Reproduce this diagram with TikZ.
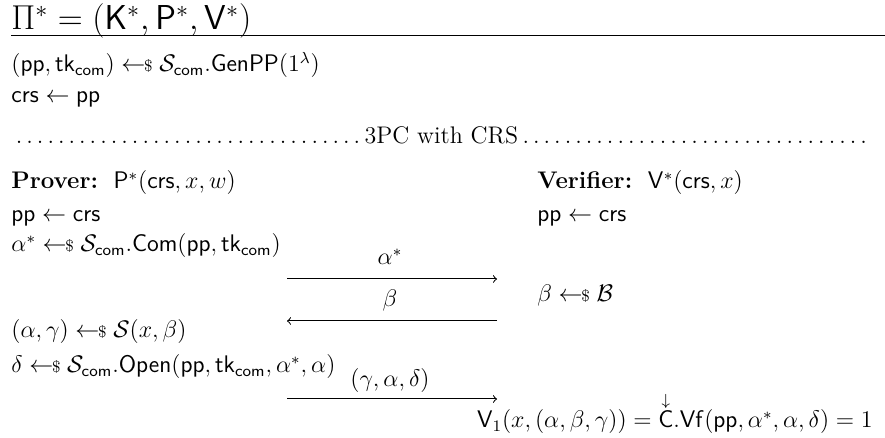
\documentclass[tikz,border=0pt]{standalone}
\usepackage{amsmath,amssymb}
\newcommand{\smp}{\mathrel{\leftarrow\!\!{\scriptstyle\$}}}
\newcommand{\Scom}{\mathcal{S}_{\mathsf{com}}}
\newcommand{\tkc}{\mathsf{tk}_{\mathsf{com}}}
\begin{document}
\begin{tikzpicture}[x=0.5pt,y=-0.5pt,
  txt/.style={anchor=base west,inner sep=0pt,font=\fontsize{12}{14}\selectfont},
  lbl/.style={anchor=base,inner sep=0pt,font=\fontsize{12}{14}\selectfont},
  msg/.style={line width=0.5pt,-to}]
\useasboundingbox (0,0) rectangle (885,438);
\node[anchor=base west,inner sep=0pt,font=\fontsize{17.28}{20}\selectfont] (title) at (11,30) {$\Pi^* = (\mathsf{K}^*,\mathsf{P}^*,\mathsf{V}^*)$};
\coordinate (rl) at (11,36);
\coordinate (rr) at (885,36);
\draw[line width=0.5pt] (rl) -- (rr);
\node[txt] (l1) at (11,72) {$(\mathsf{pp},\tkc) \smp \Scom.\mathsf{GenPP}(1^\lambda)$};
\node[txt] (l2) at (11,103) {$\mathsf{crs} \leftarrow \mathsf{pp}$};
\node[txt] (sep) at (11,144) {\makebox[430pt]{\dotfill 3PC with CRS\dotfill}};
\node[txt] (prv) at (11,189) {\textbf{Prover:}\ \ $\mathsf{P}^*(\mathsf{crs},x,w)$};
\node[txt] (vrf) at (537,189) {\textbf{Verifier:}\ \ $\mathsf{V}^*(\mathsf{crs},x)$};
\node[txt] (p1) at (11,222) {$\mathsf{pp} \leftarrow \mathsf{crs}$};
\node[txt] (v1) at (537,222) {$\mathsf{pp} \leftarrow \mathsf{crs}$};
\node[txt] (p2) at (11,252) {$\alpha^* \smp \Scom.\mathsf{Com}(\mathsf{pp},\tkc)$};
\coordinate (m1s) at (287,279);
\coordinate (m1e) at (497,279);
\draw[msg] (m1s) -- (m1e);
\node[lbl] (m1l) at (390,265) {$\alpha^*$};
\node[txt] (v2) at (537,302) {$\beta \smp \mathcal{B}$};
\coordinate (m2s) at (497,321);
\coordinate (m2e) at (287,321);
\draw[msg] (m2s) -- (m2e);
\node[lbl] (m2l) at (390,307) {$\beta$};
\node[txt] (p3) at (11,338) {$(\alpha,\gamma) \smp \mathcal{S}(x,\beta)$};
\node[txt] (p4) at (11,373) {$\delta \smp \Scom.\mathsf{Open}(\mathsf{pp},\tkc,\alpha^*,\alpha)$};
\coordinate (m3s) at (287,399);
\coordinate (m3e) at (497,399);
\draw[msg] (m3s) -- (m3e);
\node[lbl] (m3l) at (390,387) {$(\gamma,\alpha,\delta)$};
\node[anchor=base east,inner sep=0pt,font=\fontsize{12}{14}\selectfont] (v3) at (873,428) {$\mathsf{V}_1(x,(\alpha,\beta,\gamma)) = \overset{\downarrow}{\mathsf{C}}.\mathsf{Vf}(\mathsf{pp},\alpha^*,\alpha,\delta) = 1$};
\end{tikzpicture}
\end{document}
